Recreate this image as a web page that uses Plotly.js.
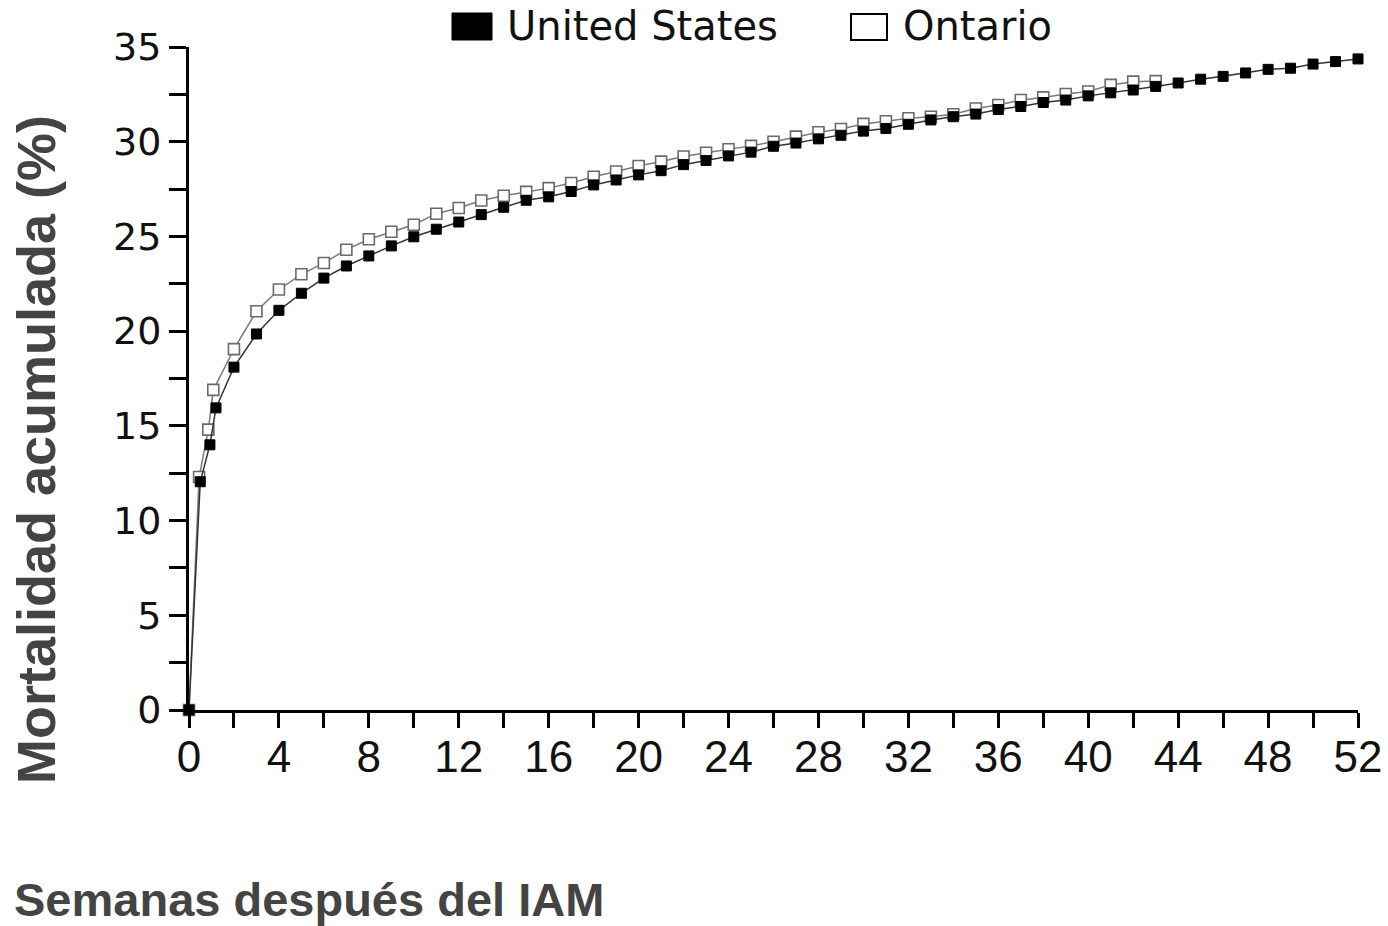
<!DOCTYPE html>
<html>
<head>
<meta charset="utf-8">
<script src="https://cdn.plot.ly/plotly-3.0.1.min.js"></script>
<style>
html,body{margin:0;padding:0;background:#fff;}
#chart{width:1388px;height:926px;}
</style>
</head>
<body>
<div id="chart"></div>
<script>
// ---- data ----
const usWeeks = [0, 0.5, 0.93, 1.2, 2, 3, 4, 5, 6, 7, 8, 9, 10, 11, 12, 13, 14, 15, 16, 17, 18, 19, 20,
  21, 22, 23, 24, 25, 26, 27, 28, 29, 30, 31, 32, 33, 34, 35, 36, 37, 38, 39, 40, 41, 42, 43, 44,
  45, 46, 47, 48, 49, 50, 51, 52];
const usMortality = [0, 12.05, 14.0, 15.95, 18.1, 19.85, 21.1, 22.0, 22.8, 23.44, 23.97, 24.5, 24.98,
  25.38, 25.76, 26.15, 26.54, 26.91, 27.09, 27.37, 27.72, 27.98, 28.25, 28.47, 28.79, 29.01, 29.25,
  29.45, 29.76, 29.93, 30.15, 30.34, 30.56, 30.7, 30.92, 31.15, 31.32, 31.46, 31.7, 31.86, 32.07,
  32.2, 32.42, 32.58, 32.73, 32.92, 33.1, 33.3, 33.45, 33.63, 33.82, 33.88, 34.1, 34.23, 34.37];

const onWeeks = [0, 0.45, 0.86, 1.08, 2, 3, 4, 5, 6, 7, 8, 9, 10, 11, 12, 13, 14, 15, 16, 17, 18, 19,
  20, 21, 22, 23, 24, 25, 26, 27, 28, 29, 30, 31, 32, 33, 34, 35, 36, 37, 38, 39, 40, 41, 42, 43];
const onMortality = [0, 12.3, 14.8, 16.9, 19.05, 21.05, 22.2, 23.0, 23.6, 24.3, 24.85, 25.25, 25.62,
  26.2, 26.5, 26.9, 27.15, 27.35, 27.55, 27.82, 28.15, 28.43, 28.72, 28.95, 29.22, 29.42, 29.6,
  29.78, 30.0, 30.27, 30.5, 30.67, 30.94, 31.08, 31.24, 31.32, 31.45, 31.75, 31.94, 32.2, 32.34,
  32.52, 32.65, 33.0, 33.17, 33.2];

const seriesNames = ["United States", "Ontario"];
const xTickVals = [];
const xTickText = [];
for (let w = 0; w <= 52; w += 2) { xTickVals.push(w); xTickText.push(w % 4 === 0 ? String(w) : ""); }
const yTickVals = [];
const yTickText = [];
for (let v = 0; v <= 35; v += 2.5) { yTickVals.push(v); yTickText.push(v % 5 === 0 ? String(v) : ""); }

const yTitle = "Mortalidad acumulada (%)";
const xTitle = "Semanas después del IAM";

// ---- layout helpers (pixel -> paper) ----
const L = 189, R = 30, T = 47, B = 216, W = 1388, H = 926;
const pw = W - L - R, ph = H - T - B;
const px = x => (x - L) / pw;
const py = y => (H - B - y) / ph;

const traces = [
  {
    x: onWeeks, y: onMortality, name: seriesNames[1], type: "scatter", mode: "lines+markers",
    line: {color: "#7a7a7a", width: 1.5},
    marker: {symbol: "square", size: 11, color: "#ffffff", line: {color: "#6a6a6a", width: 1.6}},
    cliponaxis: false, showlegend: false
  },
  {
    x: usWeeks, y: usMortality, name: seriesNames[0], type: "scatter", mode: "lines+markers",
    line: {color: "#333333", width: 1.5},
    marker: {symbol: "square", size: 10, color: "#000000", line: {color: "#000000", width: 1}},
    cliponaxis: false, showlegend: false
  }
];

const layout = {
  width: W, height: H,
  margin: {l: L, r: R, t: T, b: B, pad: 0},
  paper_bgcolor: "#ffffff", plot_bgcolor: "#ffffff",
  showlegend: false,
  xaxis: {
    range: [0, 52], tickmode: "array", tickvals: xTickVals, ticktext: xTickText,
    showgrid: false, zeroline: false, showline: true, linecolor: "#000", linewidth: 3,
    ticks: "outside", ticklen: 15, tickwidth: 3, tickcolor: "#000",
    ticklabelstandoff: -9,
    tickfont: {family: "Liberation Sans, Arial, sans-serif", size: 44, color: "#111"}
  },
  yaxis: {
    range: [0, 35], tickmode: "array", tickvals: yTickVals, ticktext: yTickText,
    showgrid: false, zeroline: false, showline: true, linecolor: "#000", linewidth: 3,
    ticks: "outside", ticklen: 17, tickwidth: 3, tickcolor: "#000",
    ticklabelstandoff: 0,
    tickfont: {family: "DejaVu Sans, sans-serif", size: 38, color: "#111"}
  },
  shapes: [
    {type: "rect", xref: "paper", yref: "paper", x0: px(452), x1: px(492), y0: py(40), y1: py(13),
     fillcolor: "#000", line: {color: "#000", width: 1}},
    {type: "rect", xref: "paper", yref: "paper", x0: px(851), x1: px(887), y0: py(40), y1: py(14),
     fillcolor: "#fff", line: {color: "#000", width: 2}}
  ],
  annotations: [
    {xref: "paper", yref: "paper", x: px(505), y: py(26), xanchor: "left", yanchor: "middle",
     text: seriesNames[0], showarrow: false,
     font: {family: "DejaVu Sans, sans-serif", size: 40, color: "#111"}},
    {xref: "paper", yref: "paper", x: px(901), y: py(26), xanchor: "left", yanchor: "middle",
     text: seriesNames[1], showarrow: false,
     font: {family: "DejaVu Sans, sans-serif", size: 40, color: "#111"}},
    {xref: "paper", yref: "paper", x: px(36), y: py(450), xanchor: "center", yanchor: "middle",
     textangle: -90, text: "<b>" + yTitle + "</b>", showarrow: false,
     font: {family: "Liberation Sans, Arial, sans-serif", size: 54, color: "#444"}},
    {xref: "paper", yref: "paper", x: px(12), y: py(900), xanchor: "left", yanchor: "middle",
     text: "<b>" + xTitle + "</b>", showarrow: false,
     font: {family: "Liberation Sans, Arial, sans-serif", size: 47, color: "#444"}}
  ]
};

Plotly.newPlot("chart", traces, layout, {staticPlot: true, displayModeBar: false});
</script>
</body>
</html>
